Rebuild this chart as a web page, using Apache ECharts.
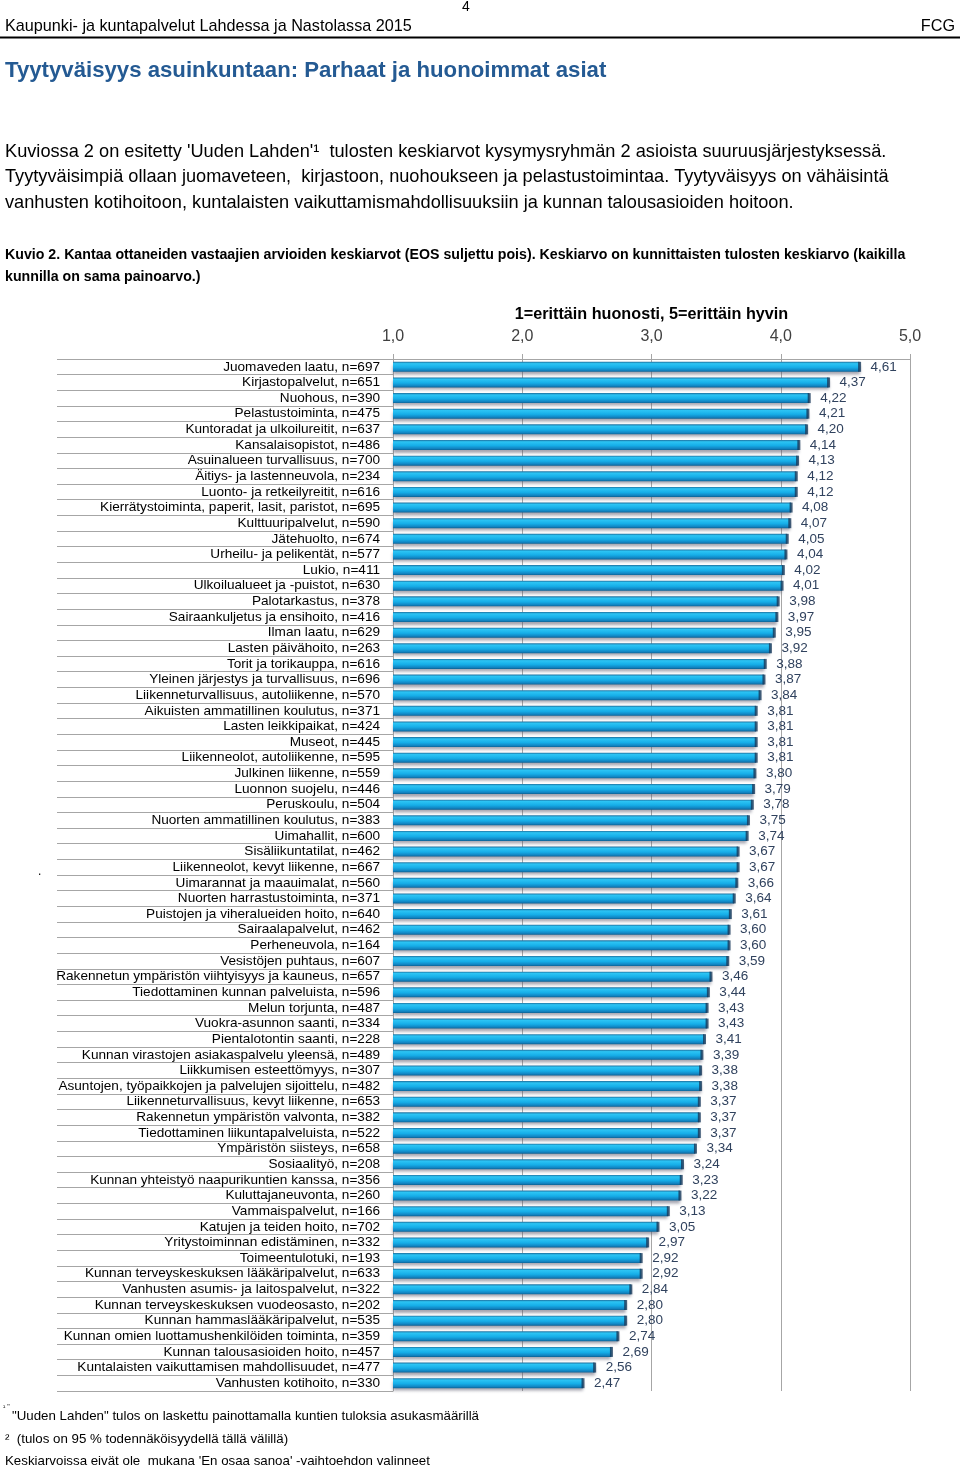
<!DOCTYPE html>
<html>
<head>
<meta charset="utf-8">
<script src="https://cdn.jsdelivr.net/npm/echarts@6/dist/echarts.min.js"></script>
<style>
html,body{margin:0;padding:0;background:#fff;}
#chart{width:960px;height:1470px;}
</style>
</head>
<body>
<div id="chart"></div>
<script>
const categories = [
"Juomaveden laatu, n=697","Kirjastopalvelut, n=651","Nuohous, n=390","Pelastustoiminta, n=475",
"Kuntoradat ja ulkoilureitit, n=637","Kansalaisopistot, n=486","Asuinalueen turvallisuus, n=700",
"Äitiys- ja lastenneuvola, n=234","Luonto- ja retkeilyreitit, n=616","Kierrätystoiminta, paperit, lasit, paristot, n=695",
"Kulttuuripalvelut, n=590","Jätehuolto, n=674","Urheilu- ja pelikentät, n=577","Lukio, n=411",
"Ulkoilualueet ja -puistot, n=630","Palotarkastus, n=378","Sairaankuljetus ja ensihoito, n=416",
"Ilman laatu, n=629","Lasten päivähoito, n=263","Torit ja torikauppa, n=616","Yleinen järjestys ja turvallisuus, n=696",
"Liikenneturvallisuus, autoliikenne, n=570","Aikuisten ammatillinen koulutus, n=371","Lasten leikkipaikat, n=424",
"Museot, n=445","Liikenneolot, autoliikenne, n=595","Julkinen liikenne, n=559","Luonnon suojelu, n=446",
"Peruskoulu, n=504","Nuorten ammatillinen koulutus, n=383","Uimahallit, n=600","Sisäliikuntatilat, n=462",
"Liikenneolot, kevyt liikenne, n=667","Uimarannat ja maauimalat, n=560","Nuorten harrastustoiminta, n=371",
"Puistojen ja viheralueiden hoito, n=640","Sairaalapalvelut, n=462","Perheneuvola, n=164","Vesistöjen puhtaus, n=607",
"Rakennetun ympäristön viihtyisyys ja kauneus, n=657","Tiedottaminen kunnan palveluista, n=596","Melun torjunta, n=487",
"Vuokra-asunnon saanti, n=334","Pientalotontin saanti, n=228","Kunnan virastojen asiakaspalvelu yleensä, n=489",
"Liikkumisen esteettömyys, n=307","Asuntojen, työpaikkojen ja palvelujen sijoittelu, n=482",
"Liikenneturvallisuus, kevyt liikenne, n=653","Rakennetun ympäristön valvonta, n=382","Tiedottaminen liikuntapalveluista, n=522",
"Ympäristön siisteys, n=658","Sosiaalityö, n=208","Kunnan yhteistyö naapurikuntien kanssa, n=356","Kuluttajaneuvonta, n=260",
"Vammaispalvelut, n=166","Katujen ja teiden hoito, n=702","Yritystoiminnan edistäminen, n=332","Toimeentulotuki, n=193",
"Kunnan terveyskeskuksen lääkäripalvelut, n=633","Vanhusten asumis- ja laitospalvelut, n=322",
"Kunnan terveyskeskuksen vuodeosasto, n=202","Kunnan hammaslääkäripalvelut, n=535",
"Kunnan omien luottamushenkilöiden toiminta, n=359","Kunnan talousasioiden hoito, n=457",
"Kuntalaisten vaikuttamisen mahdollisuudet, n=477","Vanhusten kotihoito, n=330"
];
const values = [
4.61,4.37,4.22,4.21,4.20,4.14,4.13,4.12,4.12,4.08,
4.07,4.05,4.04,4.02,4.01,3.98,3.97,3.95,3.92,3.88,
3.87,3.84,3.81,3.81,3.81,3.81,3.80,3.79,3.78,3.75,
3.74,3.67,3.67,3.66,3.64,3.61,3.60,3.60,3.59,3.46,
3.44,3.43,3.43,3.41,3.39,3.38,3.38,3.37,3.37,3.37,
3.34,3.24,3.23,3.22,3.13,3.05,2.97,2.92,2.92,2.84,
2.80,2.80,2.74,2.69,2.56,2.47
];
const axisMin = 1, axisMax = 5, axisStep = 1;
const axisTitle = "1=erittäin huonosti, 5=erittäin hyvin";
const pageNo = "4";
const headerLeft = "Kaupunki- ja kuntapalvelut Lahdessa ja Nastolassa 2015";
const headerRight = "FCG";
const pageTitle = "Tyytyväisyys asuinkuntaan: Parhaat ja huonoimmat asiat";
const paragraph = [
"Kuviossa 2 on esitetty 'Uuden Lahden'¹  tulosten keskiarvot kysymysryhmän 2 asioista suuruusjärjestyksessä.",
"Tyytyväisimpiä ollaan juomaveteen,  kirjastoon, nuohoukseen ja pelastustoimintaa. Tyytyväisyys on vähäisintä",
"vanhusten kotihoitoon, kuntalaisten vaikuttamismahdollisuuksiin ja kunnan talousasioiden hoitoon."
];
const caption = [
"Kuvio 2. Kantaa ottaneiden vastaajien arvioiden keskiarvot (EOS suljettu pois). Keskiarvo on kunnittaisten tulosten keskiarvo (kaikilla",
"kunnilla on sama painoarvo.)"
];
const footnotes = [
"\"Uuden Lahden\" tulos on laskettu painottamalla kuntien tuloksia asukasmäärillä",
"²  (tulos on 95 % todennäköisyydellä tällä välillä)",
"Keskiarvoissa eivät ole  mukana 'En osaa sanoa' -vaihtoehdon valinneet"
];

const FONT = "'Liberation Sans', Arial, sans-serif";
const fmt = v => v.toFixed(2).replace('.', ',');

const chart = echarts.init(document.getElementById('chart'), null, {renderer: 'canvas'});

function txt(x, y, text, style) {
  return {type: 'text', x: x, y: y, silent: true,
    style: Object.assign({text: text, fontFamily: FONT, fill: '#000', fontSize: 14,
      textVerticalAlign: 'middle', verticalAlign: 'middle'}, style)};
}

const graphics = [
  txt(466, 7, pageNo, {fontSize: 14, textAlign: 'center', align: 'center'}),
  txt(5, 27, headerLeft, {fontSize: 16.2}),
  txt(955, 27, headerRight, {fontSize: 16.2, textAlign: 'right', align: 'right'}),
  {type: 'line', silent: true, shape: {x1: 0, y1: 37.5, x2: 960, y2: 37.5}, style: {stroke: '#000', lineWidth: 2}},
  txt(5, 71, pageTitle, {fontSize: 22.2, fontWeight: 'bold', fill: '#245a93'}),
  txt(5, 152, paragraph[0], {fontSize: 18.2}),
  txt(5, 177, paragraph[1], {fontSize: 18.2}),
  txt(5, 203, paragraph[2], {fontSize: 18.2}),
  txt(5, 255, caption[0], {fontSize: 14.2, fontWeight: 'bold'}),
  txt(5, 277, caption[1], {fontSize: 14.2, fontWeight: 'bold'}),
  txt(38, 872, '.', {fontSize: 12}),
  txt(3, 1407, '¹ "', {fontSize: 7}),
  txt(12, 1416, footnotes[0], {fontSize: 13.3}),
  txt(5, 1439, footnotes[1], {fontSize: 13.3}),
  txt(5, 1461, footnotes[2], {fontSize: 13.3})
];

const option = {
  backgroundColor: '#fff',
  animation: false,
  textStyle: {fontFamily: FONT},
  grid: {left: 393, right: 50, top: 359, height: 1032, containLabel: false},
  xAxis: {
    type: 'value', position: 'top', min: axisMin, max: axisMax, interval: axisStep,
    name: axisTitle, nameLocation: 'middle', nameGap: 36,
    nameTextStyle: {fontSize: 16.2, fontWeight: 'bold', color: '#000', fontFamily: FONT},
    axisLine: {show: true, lineStyle: {color: '#a6a6a6', width: 1}},
    axisTick: {show: true, length: 5, lineStyle: {color: '#a6a6a6'}},
    axisLabel: {fontSize: 16, color: '#404040', margin: 14, fontFamily: FONT,
      formatter: v => v.toFixed(1).replace('.', ',')},
    splitLine: {show: true, lineStyle: {color: '#a6a6a6', width: 1}}
  },
  yAxis: {
    type: 'category', inverse: true, data: categories,
    axisLine: {show: true, lineStyle: {color: '#a6a6a6', width: 1}},
    axisTick: {show: true, length: 336, lineStyle: {color: '#a6a6a6', width: 1}},
    axisLabel: {fontSize: 13.6, color: '#000', margin: 13, fontFamily: FONT, interval: 0},
    splitLine: {show: false}
  },
  series: [
    {
      type: 'bar', data: values, barWidth: 10, z: 2,
      itemStyle: {
        color: new echarts.graphic.LinearGradient(0, 0, 0, 1, [
          {offset: 0, color: '#1d6f9e'},
          {offset: 0.18, color: '#2cc4f4'},
          {offset: 0.55, color: '#16aee8'},
          {offset: 0.85, color: '#1184c2'},
          {offset: 1, color: '#0d6294'}
        ]),
        shadowColor: 'rgba(90,90,110,0.55)', shadowOffsetY: 3, shadowOffsetX: 0, shadowBlur: 3
      },
      label: {show: true, position: 'right', distance: 11, fontSize: 13.5, color: '#30425e',
        fontFamily: FONT, formatter: p => fmt(p.value)}
    },
    {
      type: 'scatter', data: values.map((v, i) => [v, categories[i]]), symbol: 'rect', symbolSize: [3, 10], z: 3,
      itemStyle: {color: '#17385a'}, silent: true
    }
  ],
  graphic: graphics
};
chart.setOption(option);
</script>
</body>
</html>
